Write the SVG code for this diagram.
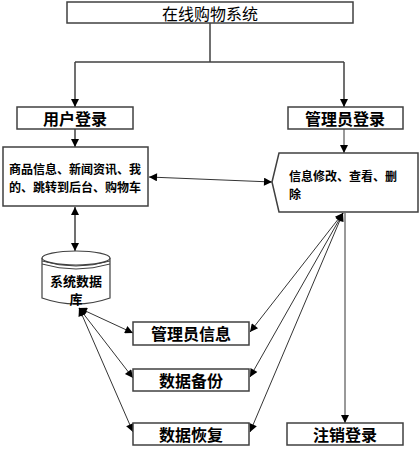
<svg xmlns="http://www.w3.org/2000/svg" width="420" height="451" viewBox="0 0 420 451">
<defs>
<marker id="ah" viewBox="0 0 10 10" refX="10" refY="5" markerWidth="10" markerHeight="8" markerUnits="userSpaceOnUse" orient="auto-start-reverse">
<path d="M0,0 L10,5 L0,10 z" fill="#000"/>
</marker>
<style>
.box{fill:#fff;stroke:#404040;stroke-width:1.5}
.t{font-family:"Noto Sans CJK SC","Noto Sans",sans-serif;fill:#000;text-anchor:middle;dominant-baseline:central}
.b{font-weight:bold}
.l{fill:none;stroke:#404040;stroke-width:1.5}
.th{fill:none;stroke:#000;stroke-width:0.8}
</style>
</defs>
<rect width="420" height="451" fill="#fff"/>
<g id="connectors">
<polyline class="l" points="210,23 210,62"/>
<polyline class="l" points="75,62 344,62"/>
<polyline class="l" points="75,62 75,107" marker-end="url(#ah)"/>
<polyline class="l" points="344,62 344,107" marker-end="url(#ah)"/>
<polyline class="l" points="75,129 75,147" marker-end="url(#ah)"/>
<polyline class="th" points="344,129 344,153" marker-end="url(#ah)"/>
<line class="th" x1="149" y1="177" x2="272" y2="182" marker-start="url(#ah)" marker-end="url(#ah)"/>
<line class="l" x1="75" y1="207" x2="75" y2="251" marker-start="url(#ah)" marker-end="url(#ah)"/>
<line class="th" x1="79" y1="308" x2="133" y2="333" marker-start="url(#ah)" marker-end="url(#ah)"/>
<line class="th" x1="79" y1="308" x2="133" y2="378" marker-start="url(#ah)" marker-end="url(#ah)"/>
<line class="th" x1="79" y1="308" x2="133" y2="432" marker-start="url(#ah)" marker-end="url(#ah)"/>
<line class="th" x1="343" y1="213" x2="250" y2="332" marker-start="url(#ah)" marker-end="url(#ah)"/>
<line class="th" x1="343" y1="213" x2="250" y2="377" marker-start="url(#ah)" marker-end="url(#ah)"/>
<line class="th" x1="343" y1="213" x2="250" y2="432" marker-start="url(#ah)" marker-end="url(#ah)"/>
<line class="th" x1="345" y1="213" x2="345" y2="423" marker-end="url(#ah)"/>
</g>
<g id="title">
<rect class="box" x="67" y="2" width="286" height="21"/>
<text class="t" x="210" y="13" font-size="16">在线购物系统</text>
</g>
<g id="user-login">
<rect class="box" x="17" y="107" width="116" height="22"/>
<text class="t b" x="75" y="118" font-size="16">用户登录</text>
</g>
<g id="admin-login">
<rect class="box" x="288" y="107" width="115" height="22"/>
<text class="t b" x="345" y="118" font-size="16">管理员登录</text>
</g>
<g id="user-functions">
<rect class="box" x="3" y="147" width="145" height="59"/>
<text class="t b" x="75" y="168" font-size="12">商品信息、新闻资讯、我</text>
<text class="t b" x="75" y="186" font-size="12">的、跳转到后台、购物车</text>
</g>
<g id="admin-functions">
<polygon class="box" stroke-width="1" points="279,153 418,153 418,212 279,212 272,182"/>
<text class="t b" x="289" y="175" font-size="12" text-anchor="start" style="text-anchor:start">信息修改、查看、删</text>
<text class="t b" x="289" y="193" font-size="12" style="text-anchor:start">除</text>
</g>
<g id="database">
<path d="M42,258 L42,298 Q76,310 110,298 L110,258" fill="#fff" stroke="#404040" stroke-width="1.2"/>
<ellipse cx="76" cy="258" rx="34" ry="7" fill="#fff" stroke="#404040" stroke-width="1.2"/>
<path d="M42,261 Q76,271 110,261" fill="none" stroke="#404040" stroke-width="1"/>
<path d="M42,264 Q76,274 110,264" fill="none" stroke="#404040" stroke-width="1"/>
<text class="t b" x="76" y="280" font-size="13">系统数据</text>
<text class="t b" x="76" y="298" font-size="13">库</text>
</g>
<g id="admin-info">
<rect class="box" x="133" y="322" width="116" height="23"/>
<text class="t b" x="191" y="333" font-size="16">管理员信息</text>
</g>
<g id="data-backup">
<rect class="box" x="133" y="369" width="116" height="22"/>
<text class="t b" x="191" y="380" font-size="16">数据备份</text>
</g>
<g id="data-restore">
<rect class="box" x="133" y="423" width="116" height="22"/>
<text class="t b" x="191" y="434" font-size="16">数据恢复</text>
</g>
<g id="logout">
<rect class="box" x="287" y="423" width="116" height="22"/>
<text class="t b" x="345" y="434" font-size="16">注销登录</text>
</g>
</svg>
